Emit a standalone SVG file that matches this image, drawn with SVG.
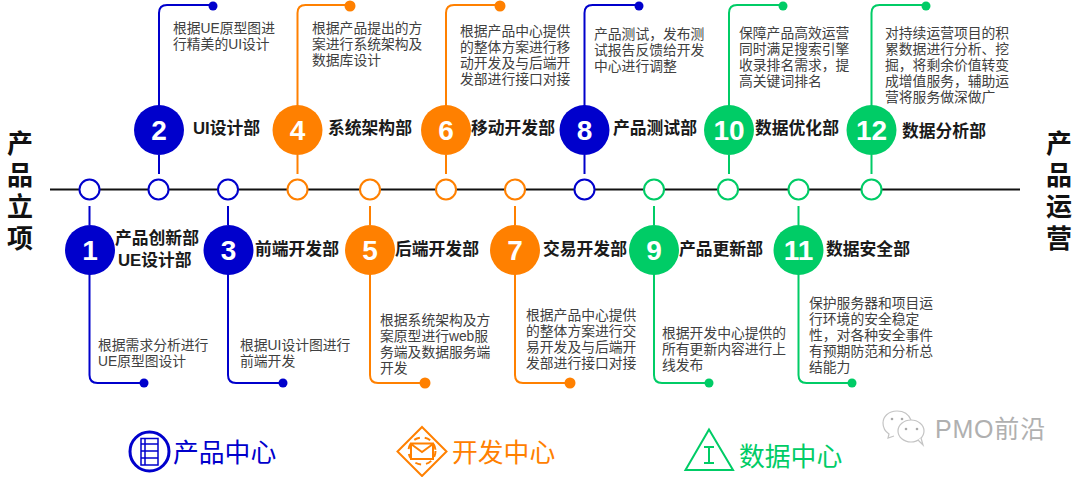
<svg xmlns="http://www.w3.org/2000/svg" width="1080" height="477" viewBox="0 0 1080 477">
<style>
text{font-family:"Liberation Sans","Noto Sans CJK SC",sans-serif}
.d{font-size:13.800px;fill:#404040}
.t{font-size:16.800px;font-weight:700;fill:#1a1a1a}
.n{font-size:28px;font-weight:700;fill:#fff;text-anchor:middle}
.s{font-size:26px;font-weight:700;fill:#111;text-anchor:middle}
.c{font-size:25.800px}
.l{fill:none;stroke-width:2}
.o{fill:#fff;stroke-width:2}
.b{stroke:#0000cc}.y{stroke:#ff8000}.g{stroke:#00cc66}
.bf{fill:#0000cc}.yf{fill:#ff8000}.gf{fill:#00cc66}
</style>
<rect width="1080" height="477" fill="#fff"/>
<g id="connectors">
<path d="M50 189.500H1020" stroke="#111" stroke-width="2" fill="none"/>
<path class="l b" d="M159 106V13Q159 5 167 5H213M159 155V174"/>
<path class="l y" d="M297.500 106V13Q297.500 5 305.500 5H350M297.500 155V174"/>
<path class="l y" d="M446 106V13Q446 5 454 5H500M446 155V174"/>
<path class="l b" d="M584.500 106V13Q584.500 5 592.500 5H639M584.500 155V174"/>
<path class="l g" d="M729 106V13Q729 5 737 5H783M729 155V174"/>
<path class="l g" d="M871.500 106V13Q871.500 5 879.500 5H926M871.500 155V174"/>
<path class="l b" d="M89.500 206V225M89.500 274V375Q89.500 383 97.500 383H144"/>
<path class="l b" d="M228 206V225M228 274V375Q228 383 236 383H283"/>
<path class="l y" d="M370 206V225M370 274V375Q370 383 378 383H425"/>
<path class="l y" d="M515 206V225M515 274V375Q515 383 523 383H570"/>
<path class="l g" d="M654 206V225M654 274V375Q654 383 662 383H709"/>
<path class="l g" d="M798.500 206V225M798.500 274V375Q798.500 383 806.500 383H852"/>
</g>
<g id="axis-nodes">
<circle class="o b" cx="89.500" cy="189.500" r="10"/><circle class="o b" cx="158.500" cy="189.500" r="10"/><circle class="o b" cx="228" cy="189.500" r="10"/>
<circle class="o y" cx="297.500" cy="189.500" r="10"/><circle class="o y" cx="370" cy="189.500" r="10"/><circle class="o y" cx="446" cy="189.500" r="10"/><circle class="o y" cx="515" cy="189.500" r="10"/>
<circle class="o b" cx="584.500" cy="189.500" r="10"/>
<circle class="o g" cx="654" cy="189.500" r="10"/><circle class="o g" cx="728" cy="189.500" r="10"/><circle class="o g" cx="798.500" cy="189.500" r="10"/><circle class="o g" cx="871.500" cy="189.500" r="10"/>
</g>
<g id="side-labels">
<text class="s"><tspan x="20" y="153">产</tspan><tspan x="20" y="185">品</tspan><tspan x="20" y="216">立</tspan><tspan x="20" y="248">项</tspan></text>
<text class="s"><tspan x="1059" y="153">产</tspan><tspan x="1059" y="185">品</tspan><tspan x="1059" y="216">运</tspan><tspan x="1059" y="248">营</tspan></text>
</g>
<g id="node1"><circle class="bf" cx="90" cy="250" r="25"/><text class="n" x="90" y="260">1</text><text class="t"><tspan x="115" y="244">产品创新部</tspan><tspan x="118" y="266">UE设计部</tspan></text><circle class="bf" cx="144" cy="383" r="4.500"/><text class="d"><tspan x="98" y="350">根据需求分析进行</tspan><tspan x="98" y="366">UE原型图设计</tspan></text></g>
<g id="node2"><circle class="bf" cx="159" cy="130" r="25"/><text class="n" x="159" y="140">2</text><text class="t" x="193" y="134">UI设计部</text><circle class="bf" cx="213" cy="6" r="4.500"/><text class="d"><tspan x="173" y="33">根据UE原型图进</tspan><tspan x="173" y="49">行精美的UI设计</tspan></text></g>
<g id="node3"><circle class="bf" cx="228.500" cy="250" r="25"/><text class="n" x="228.500" y="260">3</text><text class="t" x="255" y="255">前端开发部</text><circle class="bf" cx="283" cy="383" r="4.500"/><text class="d"><tspan x="240" y="350">根据UI设计图进行</tspan><tspan x="240" y="366">前端开发</tspan></text></g>
<g id="node4"><circle class="yf" cx="297.500" cy="130" r="25"/><text class="n" x="297.500" y="140">4</text><text class="t" x="328" y="134">系统架构部</text><circle class="yf" cx="350" cy="6" r="5.500"/><text class="d"><tspan x="312" y="33">根据产品提出的方</tspan><tspan x="312" y="49">案进行系统架构及</tspan><tspan x="312" y="65">数据库设计</tspan></text></g>
<g id="node5"><circle class="yf" cx="370" cy="250" r="25"/><text class="n" x="370" y="260">5</text><text class="t" x="395" y="255">后端开发部</text><circle class="yf" cx="425" cy="383" r="5.500"/><text class="d"><tspan x="380" y="325">根据系统架构及方</tspan><tspan x="380" y="341">案原型进行web服</tspan><tspan x="380" y="357">务端及数据服务端</tspan><tspan x="380" y="373">开发</tspan></text></g>
<g id="node6"><circle class="yf" cx="446" cy="130" r="25"/><text class="n" x="446" y="140">6</text><text class="t" x="471" y="134">移动开发部</text><circle class="yf" cx="500" cy="6" r="5.500"/><text class="d"><tspan x="460" y="36">根据产品中心提供</tspan><tspan x="460" y="52">的整体方案进行移</tspan><tspan x="460" y="68">动开发及与后端开</tspan><tspan x="460" y="84">发部进行接口对接</tspan></text></g>
<g id="node7"><circle class="yf" cx="515" cy="250" r="25"/><text class="n" x="515" y="260">7</text><text class="t" x="543" y="255">交易开发部</text><circle class="yf" cx="570" cy="383" r="5.500"/><text class="d"><tspan x="526" y="320">根据产品中心提供</tspan><tspan x="526" y="336">的整体方案进行交</tspan><tspan x="526" y="352">易开发及与后端开</tspan><tspan x="526" y="368">发部进行接口对接</tspan></text></g>
<g id="node8"><circle class="bf" cx="584.500" cy="130" r="25"/><text class="n" x="584.500" y="140">8</text><text class="t" x="613" y="134">产品测试部</text><circle class="bf" cx="639" cy="6" r="4.500"/><text class="d"><tspan x="594" y="39">产品测试，发布测</tspan><tspan x="594" y="55">试报告反馈给开发</tspan><tspan x="594" y="71">中心进行调整</tspan></text></g>
<g id="node9"><circle class="gf" cx="654" cy="250" r="25"/><text class="n" x="654" y="260">9</text><text class="t" x="679" y="255">产品更新部</text><circle class="gf" cx="709" cy="383" r="4.500"/><text class="d"><tspan x="662" y="338">根据开发中心提供的</tspan><tspan x="662" y="354">所有更新内容进行上</tspan><tspan x="662" y="370">线发布</tspan></text></g>
<g id="node10"><circle class="gf" cx="729" cy="130" r="25"/><text class="n" x="729" y="140">10</text><text class="t" x="755" y="134">数据优化部</text><circle class="gf" cx="783" cy="6" r="4.500"/><text class="d"><tspan x="739" y="38">保障产品高效运营</tspan><tspan x="739" y="54">同时满足搜索引擎</tspan><tspan x="739" y="70">收录排名需求，提</tspan><tspan x="739" y="86">高关键词排名</tspan></text></g>
<g id="node11"><circle class="gf" cx="798.500" cy="250" r="25"/><text class="n" x="798.500" y="260">11</text><text class="t" x="826" y="255">数据安全部</text><circle class="gf" cx="852" cy="383" r="4.500"/><text class="d"><tspan x="809" y="308">保护服务器和项目运</tspan><tspan x="809" y="324">行环境的安全稳定</tspan><tspan x="809" y="340">性，对各种安全事件</tspan><tspan x="809" y="356">有预期防范和分析总</tspan><tspan x="809" y="372">结能力</tspan></text></g>
<g id="node12"><circle class="gf" cx="871.500" cy="130" r="25"/><text class="n" x="871.500" y="140">12</text><text class="t" x="902" y="137">数据分析部</text><circle class="gf" cx="926" cy="6" r="4.500"/><text class="d"><tspan x="885" y="38">对持续运营项目的积</tspan><tspan x="885" y="54">累数据进行分析、挖</tspan><tspan x="885" y="70">掘，将剩余价值转变</tspan><tspan x="885" y="86">成增值服务，辅助运</tspan><tspan x="885" y="102">营将服务做深做广</tspan></text></g>
<g id="legend-product">
<circle class="b" fill="none" stroke-width="3" cx="149.500" cy="451.500" r="19.500"/>
<path class="b" fill="none" stroke-width="1.500" d="M141 438.500H158V465H141ZM141 444H158M141 451H158M141 458H158M145 438.500V465"/>
<text class="c" x="173" y="462" fill="#0000cc">产品中心</text>
</g>
<g id="legend-dev">
<path class="l y" d="M422 427L446.500 451.500L422 476L397.500 451.500Z"/>
<circle class="l y" cx="422" cy="451" r="13.500" stroke-dasharray="6 5"/>
<path class="l y" d="M411 443.500H433V459H411ZM411 444L422 452L433 444" fill="#fff"/>
<text class="c" x="452" y="462" fill="#ff8000">开发中心</text>
</g>
<g id="legend-data">
<path class="l g" d="M709 429.500L733 470H685.500Z"/>
<path class="l g" d="M704 447H714M709 447V463M704 463H714"/>
<text class="c" x="739" y="466" fill="#00cc66">数据中心</text>
</g>
<g id="watermark">
<path d="M897 411C888 411 883 417 883 423C883 428 886 432 889 434L888 438L894 436" fill="none" stroke="#c4c4c4" stroke-width="1.200"/>
<path d="M897 411C904 411 909 415 911 420" fill="none" stroke="#c4c4c4" stroke-width="1.200"/>
<ellipse cx="911" cy="431" rx="13" ry="11" fill="#fff" stroke="#c4c4c4" stroke-width="1.200"/>
<path d="M918 440L923 445L921 438" fill="#fff" stroke="#c4c4c4" stroke-width="1.200"/>
<circle cx="892" cy="419" r="1.300" fill="#aaa"/><circle cx="902" cy="419" r="1.300" fill="#aaa"/><circle cx="906" cy="429" r="1.300" fill="#aaa"/><circle cx="917" cy="429" r="1.300" fill="#aaa"/>
<text x="935" y="438" font-size="25" letter-spacing="0.800" fill="#b0b0b0">PMO前沿</text>
</g>
</svg>
